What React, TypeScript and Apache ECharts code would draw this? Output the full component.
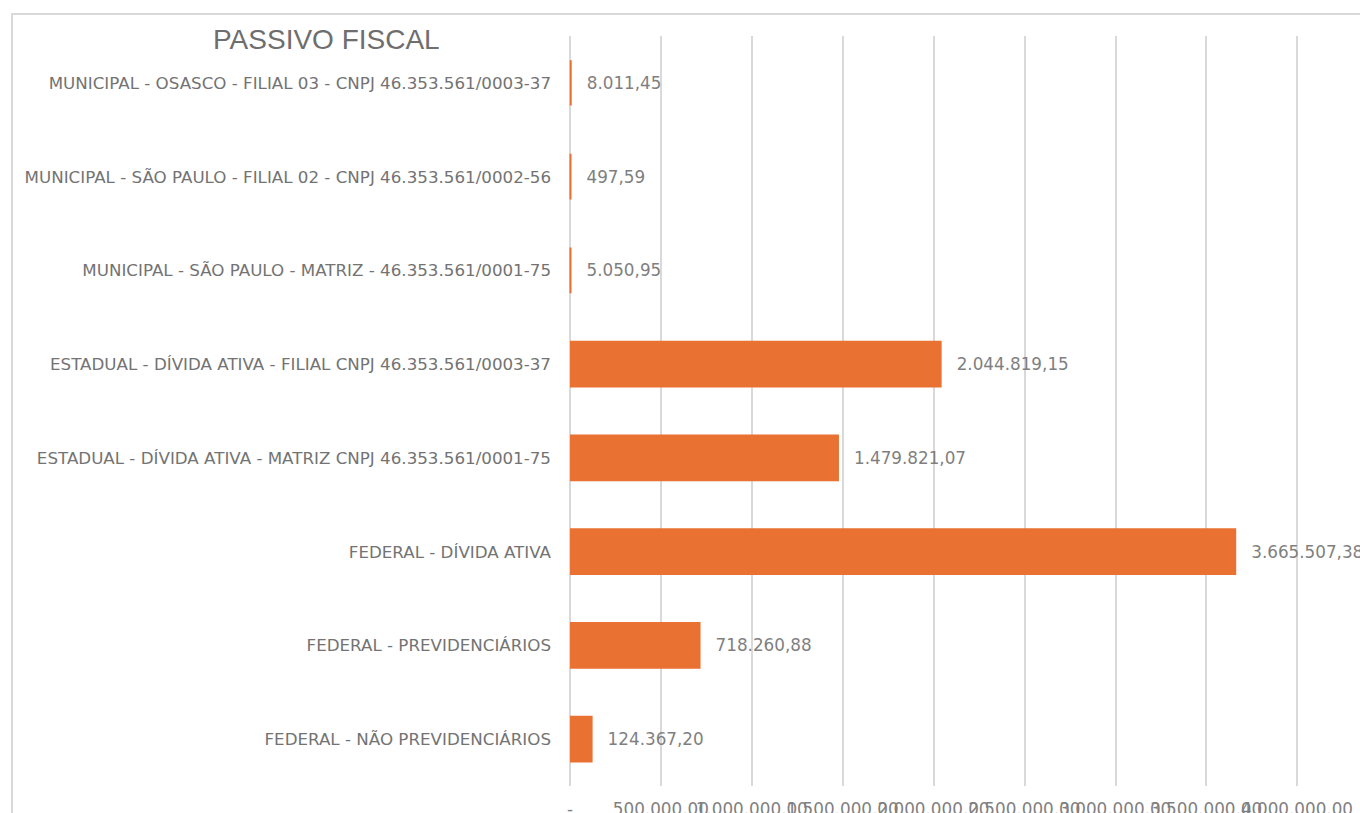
import React, { useEffect, useRef } from "react";
import * as echarts from "echarts";

const title = "PASSIVO FISCAL";

const categories = [
  "FEDERAL - NÃO PREVIDENCIÁRIOS",
  "FEDERAL - PREVIDENCIÁRIOS",
  "FEDERAL - DÍVIDA ATIVA",
  "ESTADUAL - DÍVIDA ATIVA - MATRIZ CNPJ 46.353.561/0001-75",
  "ESTADUAL - DÍVIDA ATIVA - FILIAL CNPJ 46.353.561/0003-37",
  "MUNICIPAL - SÃO PAULO - MATRIZ - 46.353.561/0001-75",
  "MUNICIPAL - SÃO PAULO - FILIAL 02 - CNPJ 46.353.561/0002-56",
  "MUNICIPAL - OSASCO - FILIAL 03 - CNPJ 46.353.561/0003-37",
];

const values = [
  124367.2, 718260.88, 3665507.38, 1479821.07, 2044819.15, 5050.95, 497.59, 8011.45,
];

const axisMin = 0;
const axisMax = 4000000;
const axisInterval = 500000;

function fmtBR(v: number): string {
  const fixed = Math.abs(v).toFixed(2);
  const [i, d] = fixed.split(".");
  const withDots = i.replace(/\B(?=(\d{3})+(?!\d))/g, ".");
  return (v < 0 ? "-" : "") + withDots + "," + d;
}

const tickLabel = (v: number) => (v === 0 ? "-" : fmtBR(v));
// Excel draws every tick label even when they overlap; split them over two
// identical axes so ECharts' min/max overlap check never hides any of them.
const isEvenTick = (v: number) => Math.round(v / axisInterval) % 2 === 0;

const FONT = "DejaVu Sans";
const FS = 16.8;

export default function App() {
  const ref = useRef<HTMLDivElement>(null);
  useEffect(() => {
    if (!ref.current) return;
    const chart = echarts.init(ref.current, null, { renderer: "svg" });
    const baseX = {
      type: "value",
      gridIndex: 0,
      position: "bottom",
      min: axisMin,
      max: axisMax,
      interval: axisInterval,
      axisLine: { show: false },
      axisTick: { show: false },
    };
    const labelStyle = {
      margin: 14,
      color: "#7f7f7f",
      fontFamily: FONT,
      fontSize: FS,
      showMinLabel: true,
      showMaxLabel: true,
    };
    chart.setOption({
      animation: false,
      backgroundColor: "#ffffff",
      title: {
        text: title,
        left: 208,
        top: 20,
        textStyle: {
          fontFamily: "Liberation Sans",
          fontSize: 28,
          fontWeight: "normal",
          color: "#6e6e6e",
        },
      },
      graphic: [
        {
          type: "rect",
          shape: { x: 12, y: 14, width: 1500, height: 1000 },
          style: { fill: "none", stroke: "#d9d9d9", lineWidth: 2 },
          silent: true,
          z: -1,
        },
      ],
      grid: {
        left: 570,
        right: 63,
        top: 36,
        bottom: 27,
        containLabel: false,
        outerBoundsMode: "none",
      },
      xAxis: [
        {
          ...baseX,
          splitLine: { show: true, lineStyle: { color: "#d9d9d9", width: 2 } },
          axisLabel: {
            ...labelStyle,
            formatter: (v: number) => (isEvenTick(v) ? tickLabel(v) : ""),
          },
        },
        {
          ...baseX,
          splitLine: { show: false },
          axisLabel: {
            ...labelStyle,
            formatter: (v: number) => (isEvenTick(v) ? "" : tickLabel(v)),
          },
        },
      ],
      yAxis: {
        type: "category",
        data: categories,
        axisLine: { show: false },
        axisTick: { show: false },
        axisLabel: {
          margin: 19,
          color: "#737373",
          fontFamily: FONT,
          fontSize: 16.7,
        },
      },
      series: [
        {
          type: "bar",
          xAxisIndex: 0,
          data: values,
          barCategoryGap: "50%",
          barMinHeight: 1,
          itemStyle: { color: "#E97132", borderColor: "#E97132", borderWidth: 2 },
          label: {
            show: true,
            position: "right",
            distance: 15,
            color: "#7f7f7f",
            fontFamily: FONT,
            fontSize: FS,
            formatter: (p: any) => fmtBR(p.value),
          },
        },
      ],
    });
    return () => chart.dispose();
  }, []);
  return (
    <div
      ref={ref}
      style={{ position: "absolute", left: 0, top: 0, width: 1360, height: 813 }}
    />
  );
}
